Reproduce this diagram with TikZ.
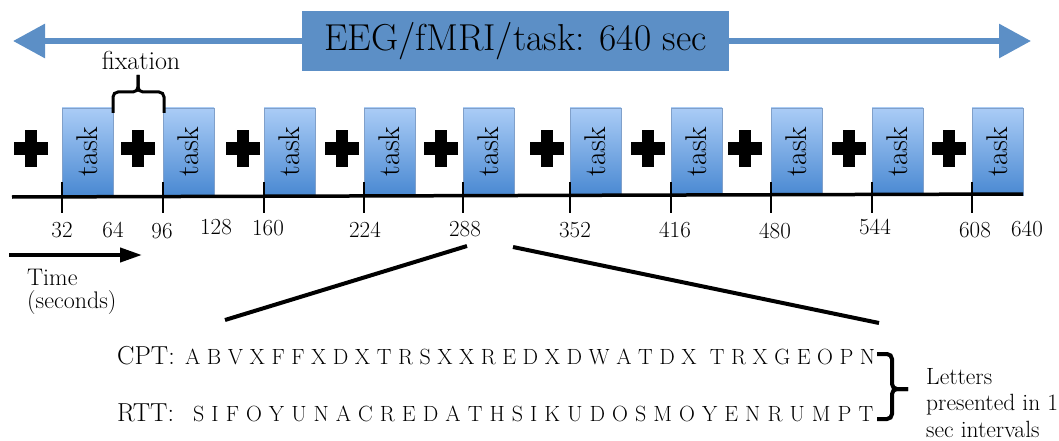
\documentclass[tikz,border=0pt]{standalone}
\usepackage{graphicx}
\usetikzlibrary{arrows.meta}

\definecolor{bannerblue}{RGB}{92,143,198}
\definecolor{tasklight}{RGB}{170,204,246}
\definecolor{taskdark}{RGB}{74,137,210}
\definecolor{taskedge}{RGB}{128,160,202}

\begin{document}
\begin{tikzpicture}
        [x=1pt,y=-1pt,%
        bannerdecorate/.style={fill=bannerblue,inner sep=0pt,minimum width=427pt,minimum height=60pt,font=\fontsize{37.5}{40}\selectfont},%
        bannerarrow/.style={draw=bannerblue,line width=6pt,-{Triangle[length=32pt,width=33pt]}},%
        taskdecorate/.style={draw=taskedge,line width=0.8pt,top color=tasklight,bottom color=taskdark,minimum width=51pt,minimum height=87pt,inner sep=0pt,font=\fontsize{30}{32}\selectfont},%
        tickdecorate/.style={line width=2pt},%
        ticklabel/.style={anchor=base,inner sep=0pt,font=\fontsize{23}{25}\selectfont},%
        bracedecorate/.style={line width=3pt,rounded corners=5pt},%
        zoomline/.style={line width=4pt},%
        textdecorate/.style={inner sep=0pt,align=left,font=\fontsize{21}{24}\selectfont}]
        \useasboundingbox (0,0) rectangle (1059,441);

        %% banner with the double arrow
        \node (banner) at (515.5,41) [bannerdecorate] {EEG/fMRI/task: 640 sec};
        \coordinate (leftend) at (13,41);
        \coordinate (rightend) at (1031,41);
        \draw[bannerarrow] (banner.west) -- (leftend);
        \draw[bannerarrow] (banner.east) -- (rightend);

        %% fixation crosses, task blocks and ticks
        \foreach \plusx/\taskx [count=\i] in {31/62, 138/163, 243/264, 342/364, 441/463,
          547/570, 648/671, 745/771, 849/872, 949/972}
        {
          \fill (\plusx-17,142) rectangle (\plusx+17,155);
          \fill (\plusx-6,130) rectangle (\plusx+6,167);
          \node (task\i) at (\taskx+25.5,151.5) [taskdecorate] {\rotatebox{90}{task}};
          \draw[tickdecorate] (\taskx,182) -- (\taskx,213);
        }
        \draw[line width=3.5pt] (12,197) -- (1023,194);

        %% tick labels
        \foreach \val/\x/\y in {32/62/237, 64/113/237, 96/162/238, 128/216/234, 160/268/235,
          224/365/237, 288/465/236, 352/575/237, 416/675/237, 480/775/238, 544/875/234,
          608/975/237, 640/1027/236}
        {
          \node (lab\val) at (\x,\y) [ticklabel] {\val};
        }

        %% fixation brace
        \node (fixation) at (141,70) [anchor=base,inner sep=0pt,font=\fontsize{26}{28}\selectfont] {fixation};
        \coordinate (fixtip) at (138,75);
        \draw[bracedecorate] (113,113) -- (113,92) -- (138,92) -- (fixtip);
        \draw[bracedecorate] (164,113) -- (164,92) -- (138,92) -- (fixtip);

        %% time arrow
        \coordinate (timestart) at (9,255);
        \coordinate (timeend) at (142,255);
        \draw[line width=4pt,-{Triangle[length=22pt,width=14pt]}] (timestart) -- (timeend);
        \node (time) at (27,269) [textdecorate,anchor=north west,font=\fontsize{24}{23}\selectfont] {Time\\(seconds)};

        %% zoom on one block
        \coordinate (zoomtopl) at (467,246);
        \coordinate (zoomtopr) at (513,247);
        \coordinate (zoombotl) at (225,320);
        \coordinate (zoombotr) at (879,323);
        \draw[zoomline] (zoomtopl) -- (zoombotl);
        \draw[zoomline] (zoomtopr) -- (zoombotr);

        %% letter streams
        \node (cpt) at (117,364) [anchor=base west,inner sep=0pt,font=\fontsize{26}{28}\selectfont] {CPT:};
        \node (cptletters) at (185,364) [anchor=base west,inner sep=0pt,font=\fontsize{22}{24}\selectfont]
          {\makebox[690pt][s]{A B V X F F X D X T R S X X R E D X D W A T D X\ \ T R X G E O P N}};
        \node (rtt) at (117,421) [anchor=base west,inner sep=0pt,font=\fontsize{26}{28}\selectfont] {RTT:};
        \node (rttletters) at (193,421) [anchor=base west,inner sep=0pt,font=\fontsize{22}{24}\selectfont]
          {\makebox[680pt][s]{S I F O Y U N A C R E D A T H S I K U D O S M O Y E N R U M P T}};

        %% brace to the note
        \coordinate (bracetip) at (908,389);
        \draw[bracedecorate,line width=4pt] (877,354) -- (892,354) -- (892,389) -- (bracetip);
        \draw[bracedecorate,line width=4pt] (877,419) -- (892,419) -- (892,389) -- (bracetip);
        \node (note) at (926,368) [textdecorate,anchor=north west,font=\fontsize{23.5}{26.5}\selectfont]
          {Letters\\presented in 1\\sec intervals};
\end{tikzpicture}
\end{document}
